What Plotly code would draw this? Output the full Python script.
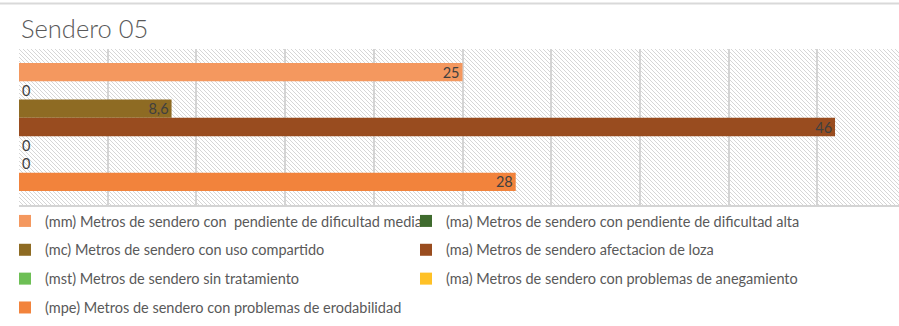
import base64
import plotly.graph_objects as go

# Series shown in the chart (one value per series, single category)
series_names = [
    "(mm) Metros de sendero con  pendiente de dificultad media",
    "(ma) Metros de sendero con pendiente de dificultad alta",
    "(mc) Metros de sendero con uso compartido",
    "(ma) Metros de sendero afectacion de loza",
    "(mst) Metros de sendero sin tratamiento",
    "(ma) Metros de sendero con problemas de anegamiento",
    "(mpe) Metros de sendero con problemas de erodabilidad",
]
series_values = [25, 0, 8.6, 46, 0, 0, 28]
value_labels = ["25", "0", "8,6", "46", "0", "0", "28"]
series_colors = ["#F4985F", "#3F6B2E", "#8E6B23", "#994C1F", "#6DBF55", "#FFC126", "#F2833C"]
legend_column = ["legend", "legend2", "legend", "legend2", "legend", "legend2", "legend"]
category = ["Sendero 05"]

W, H = 899, 326
M_L, M_R, M_T, M_B = 19, 0, 49, 121
plot_w = W - M_L - M_R
plot_h = H - M_T - M_B
px_per_unit = 88.7 / 5  # five units between gridlines

# diagonal hatch used as the plot-area background
hatch_svg = (
    f"<svg xmlns='http://www.w3.org/2000/svg' width='{plot_w}' height='{plot_h}'>"
    "<defs><pattern id='h' width='4' height='4' patternUnits='userSpaceOnUse'>"
    "<path d='M-1,-1 L5,5 M-1,3 L1,5 M3,-1 L5,1' stroke='#d6d6d6' stroke-width='1'/>"
    "</pattern></defs>"
    f"<rect width='{plot_w}' height='{plot_h}' fill='white'/>"
    f"<rect width='{plot_w}' height='{plot_h}' fill='url(#h)'/></svg>"
)
hatch_uri = "data:image/svg+xml;base64," + base64.b64encode(hatch_svg.encode()).decode()

FONT = "Lato"
FS = 14.5
fig = go.Figure()
for name, val, lab, col, leg in zip(series_names, series_values, value_labels,
                                     series_colors, legend_column):
    fig.add_trace(go.Bar(
        y=category, x=[val], name=name, orientation="h",
        marker=dict(color=col, line=dict(width=0)),
        text=[lab],
        textposition="inside" if val > 0 else "outside",
        insidetextanchor="end", textangle=0, constraintext="none",
        textfont=dict(family=FONT, size=FS, color="#404040"),
        cliponaxis=False,
        legend=leg, legendgroup=name,
    ))

leg_y = 1 - (205 - M_T) / plot_h
fig.update_layout(
    width=W, height=H,
    margin=dict(l=M_L, r=M_R, t=M_T, b=M_B, pad=0, autoexpand=False),
    paper_bgcolor="white", plot_bgcolor="rgba(0,0,0,0)",
    barmode="group", bargap=0.18, bargroupgap=0,
    title=dict(text="Sendero 05", x=21 / W, xref="container", xanchor="left",
               y=1 - 29 / H, yref="container", yanchor="middle",
               font=dict(family=FONT, size=25.5, color="#595959", weight=300)),
    xaxis=dict(range=[0, plot_w / px_per_unit], dtick=5, showticklabels=False,
               showgrid=True, gridcolor="#d4d4d4", gridwidth=1.5,
               zeroline=False, showline=True, linecolor="#d4d4d4", linewidth=1.5,
               ticks=""),
    yaxis=dict(autorange="reversed", showticklabels=False, showgrid=False,
               zeroline=False, ticks=""),
    legend=dict(x=(5 - M_L) / plot_w, xanchor="left", y=leg_y, yanchor="top",
                orientation="v", tracegroupgap=7, bgcolor="rgba(0,0,0,0)",
                font=dict(family=FONT, size=FS, color="#595959"),
                itemclick=False),
    legend2=dict(x=(406 - M_L) / plot_w, xanchor="left", y=leg_y, yanchor="top",
                 orientation="v", tracegroupgap=7, bgcolor="rgba(0,0,0,0)",
                 font=dict(family=FONT, size=FS, color="#595959"),
                 itemclick=False),
    images=[dict(source=hatch_uri, xref="paper", yref="paper", x=0, y=1,
                 sizex=1, sizey=1, xanchor="left", yanchor="top",
                 sizing="stretch", layer="below")],
    shapes=[dict(type="line", xref="paper", yref="paper",
                 x0=-M_L / plot_w, x1=1, y0=1 + (M_T - 3.5) / plot_h,
                 y1=1 + (M_T - 3.5) / plot_h,
                 line=dict(color="#d9d9d9", width=2))],
)

fig.write_html("out.html")
